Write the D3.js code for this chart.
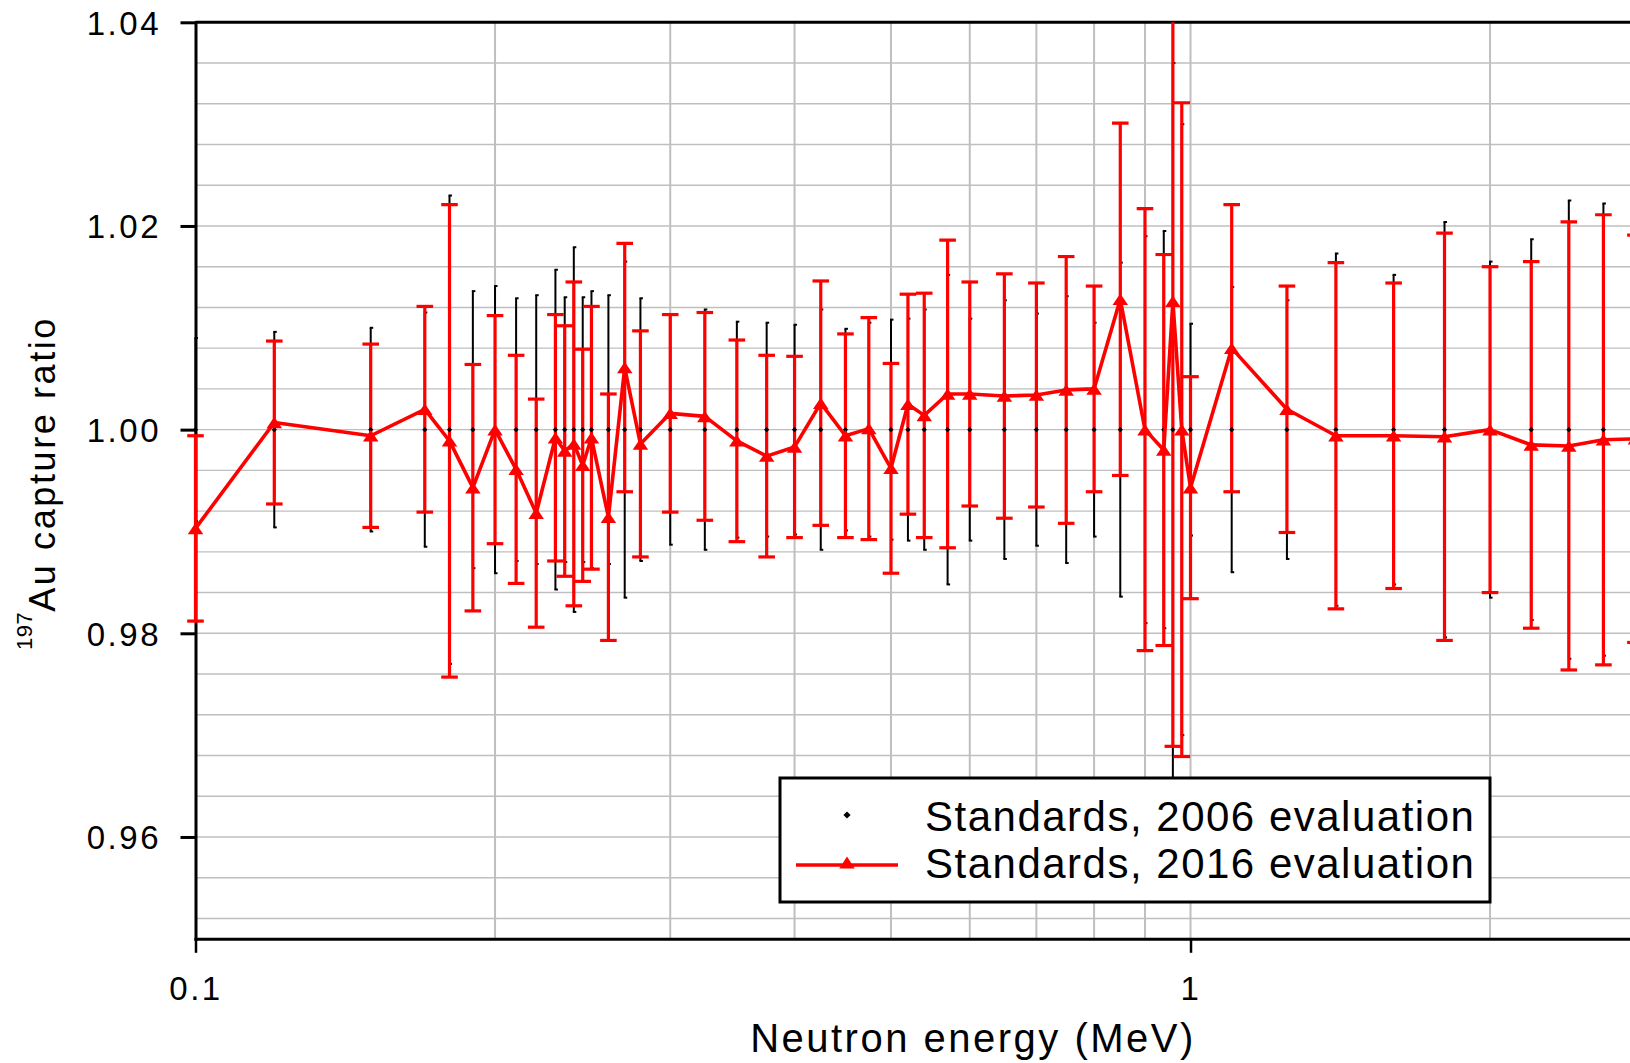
<!DOCTYPE html>
<html>
<head>
<meta charset="utf-8">
<script src="https://cdn.jsdelivr.net/npm/d3@7"></script>
<style>
  body { margin: 0; background: #fff; }
  svg text { font-family: "Liberation Sans", Arial, Helvetica, sans-serif; fill: #000; }
</style>
</head>
<body>
<div id="chart"></div>
<script>
// neutron energies (MeV), same grid for both evaluations
var energy = [0.1, 0.12, 0.15, 0.17, 0.18, 0.19, 0.2, 0.21, 0.22, 0.23, 0.235, 0.24, 0.245, 0.25,
  0.26, 0.27, 0.28, 0.3, 0.325, 0.35, 0.375, 0.4, 0.425, 0.45, 0.475, 0.5, 0.52, 0.54, 0.57, 0.6,
  0.65, 0.7, 0.75, 0.8, 0.85, 0.9, 0.94, 0.96, 0.98, 1.0, 1.1, 1.25, 1.4, 1.6, 1.8, 2.0, 2.2, 2.4, 2.6, 2.8];

// 2016 evaluation / 2006 evaluation
var ratio2016 = [0.9903, 1.0007, 0.9994, 1.0020, 0.9989, 0.9943, 1.0000, 0.9961, 0.9918, 0.9992, 0.9979, 0.9986, 0.9965, 0.9992,
  0.9914, 1.0061, 0.9986, 1.0016, 1.0013, 0.9989, 0.9974, 0.9983, 1.0026, 0.9994, 1.0001, 0.9962, 1.0025, 1.0014, 1.0035, 1.0035,
  1.0033, 1.0034, 1.0039, 1.0040, 1.0128, 1.0000, 0.9980, 1.0126, 1.0000, 0.9943, 1.0080, 1.0020, 0.9994, 0.9994, 0.9993, 1.0000,
  0.9985, 0.9984, 0.9990, 0.9991];

var err2016 = [0.0091, 0.0080, 0.0090, 0.0101, 0.0232, 0.0121, 0.0112, 0.0112, 0.0112, 0.0121, 0.0123, 0.0159, 0.0114, 0.0129,
  0.0121, 0.0122, 0.0111, 0.0097, 0.0102, 0.0099, 0.0099, 0.0089, 0.0120, 0.0100, 0.0109, 0.0103, 0.0108, 0.0120, 0.0151, 0.0110,
  0.0120, 0.0110, 0.0131, 0.0101, 0.0173, 0.0217, 0.0192, 0.0437, 0.0321, 0.0109, 0.0141, 0.0121, 0.0170, 0.0150, 0.0200, 0.0160,
  0.0180, 0.0220, 0.0221, 0.0200];

// 2006 points all sit on 1.00, only the uncertainty differs
var err2006 = [0.0090, 0.0096, 0.0100, 0.0115, 0.0230, 0.0136, 0.0141, 0.0129, 0.0132, 0.0157, 0.0130, 0.0179, 0.0130, 0.0136,
  0.0132, 0.0165, 0.0129, 0.0113, 0.0118, 0.0106, 0.0105, 0.0103, 0.0118, 0.0099, 0.0105, 0.0108, 0.0109, 0.0118, 0.0152, 0.0109,
  0.0127, 0.0114, 0.0131, 0.0105, 0.0164, 0.0190, 0.0195, 0.0360, 0.0300, 0.0104, 0.0140, 0.0127, 0.0173, 0.0152, 0.0204, 0.0165,
  0.0187, 0.0225, 0.0222, 0.0210];

var yTicks = [0.96, 0.98, 1.00, 1.02, 1.04];
var xTicks = [0.1, 1];
var xGrid = [0.2, 0.3, 0.4, 0.5, 0.6, 0.7, 0.8, 0.9, 1, 2];
var seriesNames = ["Standards, 2006 evaluation", "Standards, 2016 evaluation"];

var W = 1630, H = 1063;
// note: "top" is taken by window.top, so plot edges get their own names
var pLeft = 195.5, pTop = 22.3, pBottom = 938.8, pRight = 1630;

var x = d3.scaleLog().domain([0.1, 2.765]).range([pLeft, pRight]);
var y = d3.scaleLinear().domain([0.95, 1.04]).range([pBottom, pTop]);

var data = energy.map(function (e, i) {
  return { e: e, r: ratio2016[i], er: err2016[i], eb: err2006[i] };
});

var svg = d3.select("#chart").append("svg")
  .attr("width", W)
  .attr("height", H);

// only clip top/bottom; the first point sits on the y axis and is drawn over it
svg.append("defs").append("clipPath").attr("id", "plotclip")
  .append("rect")
  .attr("x", 0).attr("y", pTop)
  .attr("width", pRight).attr("height", pBottom - pTop);

// grid
var hGrid = d3.range(238, 260).map(function (k) { return k * 0.004; });
svg.append("g").selectAll("line").data(hGrid).enter().append("line")
  .attr("x1", pLeft).attr("x2", pRight)
  .attr("y1", function (d) { return y(d); }).attr("y2", function (d) { return y(d); })
  .attr("stroke", "#bfbfbf").attr("stroke-width", 1.4);

svg.append("g").selectAll("line").data(xGrid).enter().append("line")
  .attr("x1", function (d) { return x(d); }).attr("x2", function (d) { return x(d); })
  .attr("y1", pTop).attr("y2", pBottom)
  .attr("stroke", "#bfbfbf").attr("stroke-width", 2);

// axes
var yAxis = svg.append("g").attr("transform", "translate(" + pLeft + ",0)")
  .call(d3.axisLeft(y).tickValues(yTicks).tickFormat(d3.format(".2f"))
    .tickSize(15).tickSizeOuter(0).tickPadding(19.5));
yAxis.select(".domain").attr("stroke-width", 3).attr("stroke-linecap", "square");
yAxis.selectAll(".tick line").attr("stroke-width", 3);
yAxis.selectAll("text").attr("font-size", 33).attr("letter-spacing", "2.5px").attr("dy", "0.36em");

var xAxis = svg.append("g").attr("transform", "translate(0," + pBottom + ")")
  .call(d3.axisBottom(x).tickValues(xTicks).tickFormat(function (d) { return d < 1 ? "0.1" : "1"; })
    .tickSize(14).tickSizeOuter(0).tickPadding(24));
xAxis.select(".domain").attr("stroke-width", 3).attr("stroke-linecap", "square");
xAxis.selectAll(".tick line").attr("stroke-width", 2.5);
xAxis.selectAll("text").attr("font-size", 33).attr("letter-spacing", "2.5px");

// top frame line
svg.append("line")
  .attr("x1", pLeft).attr("x2", pRight).attr("y1", pTop).attr("y2", pTop)
  .attr("stroke", "#000").attr("stroke-width", 3);

var plot = svg.append("g").attr("clip-path", "url(#plotclip)");

// 2006 error bars (black, thin)
var bb = plot.append("g").attr("stroke", "#000").attr("stroke-width", 2);
bb.selectAll(".bar").data(data).enter().append("line")
  .attr("x1", function (d) { return x(d.e); }).attr("x2", function (d) { return x(d.e); })
  .attr("y1", function (d) { return y(1 + d.eb); }).attr("y2", function (d) { return y(1 - d.eb); });
bb.selectAll(".capT").data(data).enter().append("line")
  .attr("x1", function (d) { return x(d.e) - 1; }).attr("x2", function (d) { return x(d.e) + 2.5; })
  .attr("y1", function (d) { return y(1 + d.eb); }).attr("y2", function (d) { return y(1 + d.eb); });
bb.selectAll(".capB").data(data).enter().append("line")
  .attr("x1", function (d) { return x(d.e) - 1; }).attr("x2", function (d) { return x(d.e) + 2.5; })
  .attr("y1", function (d) { return y(1 - d.eb); }).attr("y2", function (d) { return y(1 - d.eb); });

// 2016 error bars (red)
var rb = plot.append("g").attr("stroke", "#ff0000").attr("stroke-width", 3.2);
rb.selectAll(".bar").data(data).enter().append("line")
  .attr("x1", function (d) { return x(d.e); }).attr("x2", function (d) { return x(d.e); })
  .attr("y1", function (d) { return y(d.r + d.er); }).attr("y2", function (d) { return y(d.r - d.er); });
rb.selectAll(".capT").data(data).enter().append("line")
  .attr("x1", function (d) { return x(d.e) - 8.3; }).attr("x2", function (d) { return x(d.e) + 8.3; })
  .attr("y1", function (d) { return y(d.r + d.er); }).attr("y2", function (d) { return y(d.r + d.er); });
rb.selectAll(".capB").data(data).enter().append("line")
  .attr("x1", function (d) { return x(d.e) - 8.3; }).attr("x2", function (d) { return x(d.e) + 8.3; })
  .attr("y1", function (d) { return y(d.r - d.er); }).attr("y2", function (d) { return y(d.r - d.er); });

// 2006 points
function diamond(s) { return "M0," + (-s) + "L" + s + ",0L0," + s + "L" + (-s) + ",0Z"; }
plot.append("g").selectAll("path").data(data).enter().append("path")
  .attr("d", diamond(2.6))
  .attr("transform", function (d) { return "translate(" + x(d.e) + "," + y(1) + ")"; })
  .attr("fill", "#000");

// 2016 line + triangles
var line = d3.line()
  .x(function (d) { return x(d.e); })
  .y(function (d) { return y(d.r); });
plot.append("path").datum(data)
  .attr("d", line)
  .attr("fill", "none")
  .attr("stroke", "#ff0000")
  .attr("stroke-width", 3.6)
  .attr("stroke-linejoin", "round");

function tri(w, h) { return "M0," + (-h / 2) + "L" + (w / 2) + "," + (h / 2) + "L" + (-w / 2) + "," + (h / 2) + "Z"; }
plot.append("g").selectAll("path").data(data).enter().append("path")
  .attr("d", tri(15.5, 11.5))
  .attr("transform", function (d) { return "translate(" + x(d.e) + "," + y(d.r) + ")"; })
  .attr("fill", "#ff0000");

// axis titles
svg.append("text")
  .attr("x", 973).attr("y", 1052)
  .attr("text-anchor", "middle")
  .attr("font-size", 40).attr("letter-spacing", "2.5px")
  .text("Neutron energy (MeV)");

var yt = svg.append("text")
  .attr("transform", "translate(55,483) rotate(-90)")
  .attr("text-anchor", "middle")
  .attr("font-size", 36).attr("letter-spacing", "2.6px");
yt.append("tspan").attr("font-size", 22).attr("letter-spacing", "0.5px").attr("dy", -23).text("197");
yt.append("tspan").attr("dy", 23).text("Au capture ratio");

// legend
var lg = svg.append("g");
lg.append("rect")
  .attr("x", 780).attr("y", 778).attr("width", 710).attr("height", 124)
  .attr("fill", "#fff").attr("stroke", "#000").attr("stroke-width", 3);
lg.append("path").attr("d", diamond(3.6))
  .attr("transform", "translate(847,815)").attr("fill", "#000");
lg.append("line")
  .attr("x1", 796).attr("x2", 898).attr("y1", 865).attr("y2", 865)
  .attr("stroke", "#ff0000").attr("stroke-width", 3.6);
lg.append("path").attr("d", tri(15.5, 12))
  .attr("transform", "translate(847,862.5)").attr("fill", "#ff0000");
lg.selectAll(".lt").data(seriesNames).enter().append("text")
  .attr("x", 925)
  .attr("y", function (d, i) { return i === 0 ? 830.7 : 878.3; })
  .attr("font-size", 42).attr("letter-spacing", "1.5px")
  .text(function (d) { return d; });
</script>
</body>
</html>
